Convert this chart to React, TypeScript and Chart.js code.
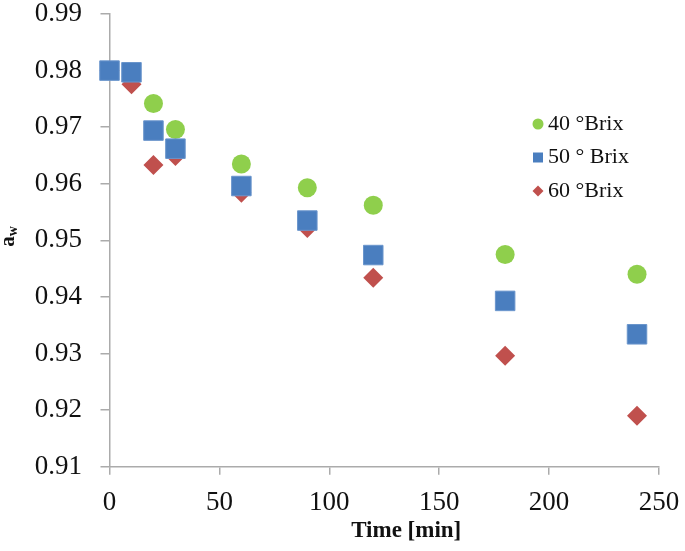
import React, { useEffect, useRef } from "react";
import { Chart, registerables } from "chart.js";

Chart.register(...registerables);

const times = [0, 10, 20, 30, 60, 90, 120, 180, 240];
const brix40 = [0.98, 0.979, 0.9742, 0.9696, 0.9635, 0.9593, 0.9562, 0.9475, 0.944];
const brix50 = [0.98, 0.9797, 0.9694, 0.9662, 0.9596, 0.9535, 0.9474, 0.9393, 0.9334];
const brix60 = [0.98, 0.9776, 0.9633, 0.9649, 0.9584, 0.9522, 0.9434, 0.9296, 0.919];

const seriesLabels = ["40 °Brix", "50 ° Brix", "60 °Brix"];
const xTicks = [0, 50, 100, 150, 200, 250];
const yTicks = [0.91, 0.92, 0.93, 0.94, 0.95, 0.96, 0.97, 0.98, 0.99];
const xTitle = "Time [min]";
const yTitleMain = "a";
const yTitleSub = "w";

const GREEN = "#8FCF4C";
const BLUE = "#4A7EBF";
const RED = "#C0504D";
const AXIS = "#ABABAB";
const TEXT = "#111111";
const SERIF = "'Liberation Serif', 'Times New Roman', serif";

const pts = (ys: number[]) => times.map((t, i) => ({ x: t, y: ys[i] }));

const decorPlugin = {
  id: "decor",
  afterDraw(chart: any) {
    const ctx = chart.ctx as CanvasRenderingContext2D;
    const area = chart.chartArea;
    ctx.save();
    // x title
    ctx.fillStyle = TEXT;
    ctx.font = `bold 23px ${SERIF}`;
    ctx.textAlign = "center";
    ctx.textBaseline = "alphabetic";
    ctx.fillText(xTitle, area.left + (area.right - area.left) * 0.54, area.bottom + 70);
    // y title (rotated, with subscript)
    ctx.save();
    ctx.translate(14, (area.top + area.bottom) / 2 - 4);
    ctx.rotate(-Math.PI / 2);
    ctx.textAlign = "left";
    ctx.textBaseline = "alphabetic";
    ctx.font = `bold 21px ${SERIF}`;
    const wa = ctx.measureText(yTitleMain).width;
    ctx.font = `bold 14px ${SERIF}`;
    const ww = ctx.measureText(yTitleSub).width;
    const start = -(wa + ww) / 2;
    ctx.font = `bold 21px ${SERIF}`;
    ctx.fillText(yTitleMain, start, 0);
    ctx.font = `bold 14px ${SERIF}`;
    ctx.fillText(yTitleSub, start + wa, 3);
    ctx.restore();
    // legend
    const lx = area.right - 121;
    const ly0 = area.top + 110;
    const step = 33.5;
    chart.data.datasets.forEach((ds: any, i: number) => {
      const cy = ly0 + i * step;
      ctx.fillStyle = ds.backgroundColor;
      ctx.beginPath();
      if (ds.pointStyle === "circle") {
        ctx.arc(lx, cy, 5.5, 0, Math.PI * 2);
      } else if (ds.pointStyle === "rect") {
        ctx.rect(lx - 5, cy - 5, 10, 10);
      } else {
        ctx.moveTo(lx - 5.5, cy);
        ctx.lineTo(lx, cy - 5.5);
        ctx.lineTo(lx + 5.5, cy);
        ctx.lineTo(lx, cy + 5.5);
        ctx.closePath();
      }
      ctx.fill();
      ctx.fillStyle = TEXT;
      ctx.font = `22px ${SERIF}`;
      ctx.textAlign = "left";
      ctx.textBaseline = "middle";
      ctx.fillText(ds.label, lx + 10, cy);
    });
    ctx.restore();
  },
};

export default function App() {
  const ref = useRef<HTMLCanvasElement | null>(null);
  useEffect(() => {
    if (!ref.current) return;
    const chart = new Chart(ref.current, {
      type: "scatter",
      data: {
        datasets: [
          {
            label: seriesLabels[0],
            data: pts(brix40),
            pointStyle: "circle",
            pointRadius: 9.5,
            backgroundColor: GREEN,
            borderColor: GREEN,
            borderWidth: 0,
            order: 2,
            clip: false,
          },
          {
            label: seriesLabels[1],
            data: pts(brix50),
            pointStyle: "rect",
            pointRadius: 13.8,
            backgroundColor: BLUE,
            borderColor: "#6A95CC",
            borderWidth: 1,
            order: 0,
            clip: false,
          },
          {
            label: seriesLabels[2],
            data: pts(brix60),
            pointStyle: "rectRot",
            pointRadius: 10,
            backgroundColor: RED,
            borderColor: RED,
            borderWidth: 0,
            order: 1,
            clip: false,
          },
        ] as any,
      },
      options: {
        responsive: false,
        animation: false,
        devicePixelRatio: 1,
        layout: { autoPadding: false, padding: { left: 0, right: 26, top: 14, bottom: 0 } },
        plugins: { legend: { display: false }, tooltip: { enabled: false } },
        scales: {
          x: {
            type: "linear",
            position: "bottom",
            min: 0,
            max: 250,
            afterBuildTicks: (s: any) => {
              s.ticks = xTicks.map((v) => ({ value: v }));
            },
            afterFit: (s: any) => {
              s.height = 84.3;
              s.paddingLeft = 0;
              s.paddingRight = 0;
            },
            ticks: {
              color: TEXT,
              font: { family: SERIF, size: 27, lineHeight: 1 },
              padding: 15,
              maxRotation: 0,
              callback: (v: any) => String(v),
            },
            grid: {
              drawOnChartArea: false,
              drawTicks: true,
              tickLength: 8,
              color: AXIS,
              lineWidth: 1.5,
            },
            border: { display: true, color: AXIS, width: 1.5 },
          },
          y: {
            type: "linear",
            position: "left",
            min: 0.91,
            max: 0.99,
            afterBuildTicks: (s: any) => {
              s.ticks = yTicks.map((v) => ({ value: v }));
            },
            afterFit: (s: any) => {
              s.width = 109.5;
              s.paddingTop = 0;
              s.paddingBottom = 0;
            },
            ticks: {
              color: TEXT,
              font: { family: SERIF, size: 27, lineHeight: 1 },
              padding: 18.5,
              callback: (v: any) => Number(v).toFixed(2),
            },
            grid: {
              drawOnChartArea: false,
              drawTicks: true,
              tickLength: 9,
              color: AXIS,
              lineWidth: 1.5,
            },
            border: { display: true, color: AXIS, width: 1.5 },
          },
        },
      },
      plugins: [decorPlugin],
    });
    return () => chart.destroy();
  }, []);
  return (
    <div style={{ position: "absolute", left: 0, top: 0, width: 685, height: 551, background: "#fff" }}>
      <canvas ref={ref} width={685} height={551} />
    </div>
  );
}
